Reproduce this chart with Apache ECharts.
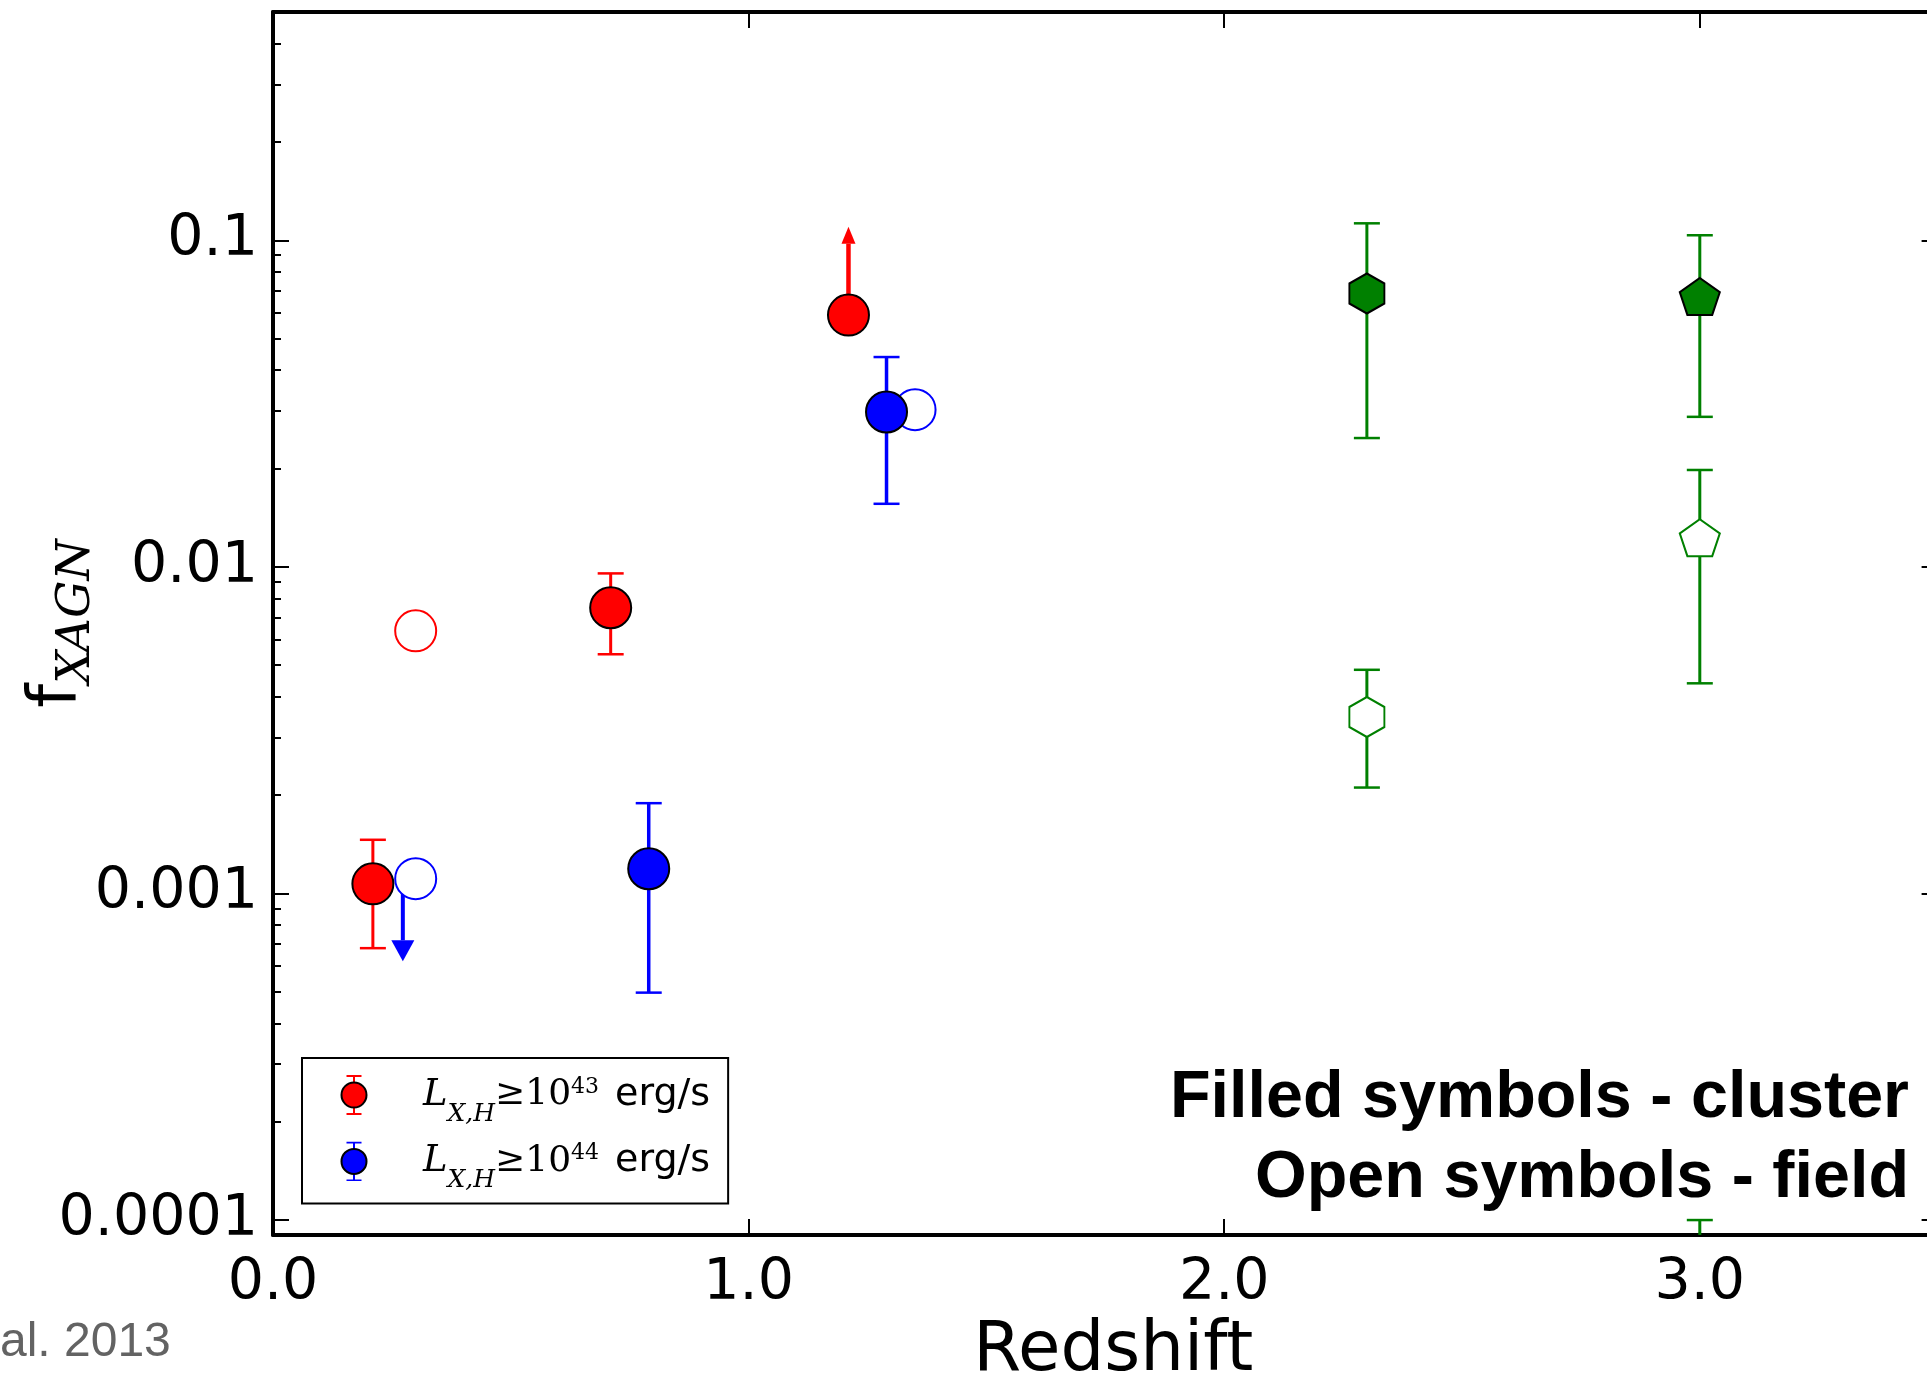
<!DOCTYPE html>
<html>
<head>
<meta charset="utf-8">
<script src="https://cdn.jsdelivr.net/npm/echarts@6/dist/echarts.min.js"></script>
<style>
html, body { margin: 0; padding: 0; background: #fff; }
#chart { width: 1927px; height: 1374px; }
</style>
</head>
<body>
<div id="chart"></div>
<script>
// axis ranges and ticks
var xMin = 0, xMax = 3.5;
var yMin = 9e-5, yMax = 0.5;
var yMinorTicks = [2e-4, 3e-4, 4e-4, 5e-4, 6e-4, 7e-4, 8e-4, 9e-4,
                   2e-3, 3e-3, 4e-3, 5e-3, 6e-3, 7e-3, 8e-3, 9e-3,
                   0.02, 0.03, 0.04, 0.05, 0.06, 0.07, 0.08, 0.09,
                   0.2, 0.3, 0.4];

// red: L >= 1e43, blue: L >= 1e44  ([z, f])
var redCluster = [[0.21, 1.07e-3], [0.71, 7.5e-3], [1.21, 0.059]];
var redClusterErr = [[0.21, 6.8e-4, 1.46e-3], [0.71, 5.4e-3, 9.55e-3]];
var redClusterLimit = [[1.21, 0.059, 0.110]];
var redField = [[0.30, 6.37e-3]];

var blueCluster = [[0.79, 1.19e-3], [1.29, 0.0298]];
var blueClusterErr = [[0.79, 4.97e-4, 1.89e-3], [1.29, 0.0156, 0.0439]];
var blueField = [[0.30, 1.11e-3], [1.35, 0.0303]];
var blueFieldLimit = [[0.273, 1.11e-3, 6.2e-4]];

// green: high-z points
var greenClusterHex = [[2.30, 0.0687]];
var greenClusterPent = [[3.0, 0.0663]];
var greenClusterErr = [[2.30, 0.0248, 0.1127], [3.0, 0.0288, 0.1036]];
var greenFieldHex = [[2.30, 3.47e-3]];
var greenFieldPent = [[3.0, 0.0121]];
var greenFieldErr = [[2.30, 2.11e-3, 4.84e-3], [3.0, 4.40e-3, 0.0198], [3.0, 5e-5, 1e-4]];

var legendExp = { 'Lx43': '43', 'Lx44': '44' };

var RED = '#ff0000', BLUE = '#0000ff', GREEN = '#008000';
var HEX = 'path://M0,-1L0.866,-0.5L0.866,0.5L0,1L-0.866,0.5L-0.866,-0.5Z';
var PENT = 'path://M0,-1L0.951,-0.309L0.588,0.809L-0.588,0.809L-0.951,-0.309Z';

var chart = echarts.init(document.getElementById('chart'), null, { renderer: 'canvas' });

function errorBarRender(color, lw) {
    return function (params, api) {
        var x = api.value(0);
        var lo = api.coord([x, api.value(1)]);
        var hi = api.coord([x, api.value(2)]);
        var half = 13;
        return {
            type: 'group',
            children: [
                { type: 'line', shape: { x1: lo[0], y1: lo[1], x2: hi[0], y2: hi[1] }, style: { stroke: color, lineWidth: lw } },
                { type: 'line', shape: { x1: hi[0] - half, y1: hi[1], x2: hi[0] + half, y2: hi[1] }, style: { stroke: color, lineWidth: 2.5 } },
                { type: 'line', shape: { x1: lo[0] - half, y1: lo[1], x2: lo[0] + half, y2: lo[1] }, style: { stroke: color, lineWidth: 2.5 } }
            ]
        };
    };
}

function arrowRender(color, lw, headW, headL) {
    return function (params, api) {
        var x = api.value(0);
        var p0 = api.coord([x, api.value(1)]);
        var p1 = api.coord([x, api.value(2)]);
        var dir = p1[1] < p0[1] ? -1 : 1;
        var base = p1[1] - dir * headL;
        return {
            type: 'group',
            children: [
                { type: 'line', shape: { x1: p0[0], y1: p0[1], x2: p1[0], y2: base }, style: { stroke: color, lineWidth: lw } },
                { type: 'polygon', shape: { points: [[p1[0] - headW / 2, base], [p1[0] + headW / 2, base], [p1[0], p1[1]]] }, style: { fill: color } }
            ]
        };
    };
}

function legendIcon(color) {
    var svg = "<svg xmlns='http://www.w3.org/2000/svg' width='91' height='40' viewBox='0 0 91 40'>" +
        "<line x1='27' y1='1' x2='27' y2='39' stroke='" + color + "' stroke-width='2'/>" +
        "<line x1='19.5' y1='1' x2='34.5' y2='1' stroke='" + color + "' stroke-width='2'/>" +
        "<line x1='19.5' y1='39' x2='34.5' y2='39' stroke='" + color + "' stroke-width='2'/>" +
        "<circle cx='27' cy='20' r='12.5' fill='" + color + "' stroke='black' stroke-width='2'/></svg>";
    return 'image://data:image/svg+xml;charset=utf-8,' + encodeURIComponent(svg);
}

function errSeries(name, data, color, lw) {
    return { type: 'custom', name: name, data: data, renderItem: errorBarRender(color, lw),
             encode: { x: 0, y: [1, 2] }, clip: true, silent: true, z: 2 };
}
function arrowSeries(name, data, color, lw, hw, hl) {
    return { type: 'custom', name: name, data: data, renderItem: arrowRender(color, lw, hw, hl),
             encode: { x: 0, y: [1, 2] }, clip: true, silent: true, z: 2 };
}
function markSeries(name, data, symbol, size, fill, edge, z, offset) {
    return { type: 'scatter', name: name, data: data, symbol: symbol, symbolSize: size,
             symbolOffset: offset || [0, 0],
             itemStyle: { color: fill, borderColor: edge, borderWidth: 2, opacity: 1 },
             emphasis: { disabled: true }, silent: true, z: z };
}

var spine = { show: true, onZero: false, lineStyle: { color: '#000', width: 4 } };
var tickFont = { fontFamily: 'DejaVu Sans', fontSize: 57, color: '#000' };
var logMin = Math.log10(yMin), logMax = Math.log10(yMax);
var minorLog = yMinorTicks.map(function (v) { return Math.log10(v); });

option = {
    animation: false,
    backgroundColor: '#fff',
    grid: { left: 273, top: 12, right: -10.6, bottom: 139, outerBoundsMode: 'none', containLabel: false },
    legend: {
        orient: 'vertical',
        left: 302,
        top: 1058,
        padding: [12, 18, 10, 25],
        itemGap: 9.4,
        itemWidth: 91,
        itemHeight: 40,
        backgroundColor: '#fff',
        borderColor: '#000',
        borderWidth: 2,
        borderRadius: 0,
        selectedMode: false,
        symbolKeepAspect: true,
        data: [
            { name: 'Lx43', icon: legendIcon(RED) },
            { name: 'Lx44', icon: legendIcon(BLUE) }
        ],
        formatter: function (name) {
            return '{L|L}{sub|X,H}{ge|\u226510}{sup|' + legendExp[name] + '}{u|erg/s}';
        },
        textStyle: {
            color: '#000',
            rich: {
                L: { fontFamily: 'DejaVu Serif', fontStyle: 'italic', fontSize: 37, lineHeight: 50, verticalAlign: 'middle', color: '#000' },
                sub: { fontFamily: 'DejaVu Serif', fontStyle: 'italic', fontSize: 25, lineHeight: 11, height: 11, verticalAlign: 'bottom', color: '#000' },
                ge: { fontFamily: 'DejaVu Serif', fontSize: 36, lineHeight: 50, verticalAlign: 'middle', color: '#000' },
                sup: { fontFamily: 'DejaVu Serif', fontSize: 22, lineHeight: 34, height: 34, verticalAlign: 'top', color: '#000' },
                u: { fontFamily: 'DejaVu Sans', fontSize: 38, lineHeight: 50, verticalAlign: 'middle', padding: [0, 0, 0, 16], color: '#000' }
            }
        }
    },
    xAxis: [
        {
            type: 'value', min: xMin, max: xMax, interval: 1, position: 'bottom',
            axisLine: spine,
            axisTick: { show: true, inside: true, length: 16, lineStyle: { color: '#000', width: 2 } },
            axisLabel: Object.assign({ margin: 21, showMaxLabel: false, formatter: function (v) { return v.toFixed(1); } }, tickFont),
            splitLine: { show: false },
            name: 'Redshift', nameLocation: 'middle', nameGap: 83, nameMoveOverlap: false,
            nameTextStyle: { fontFamily: 'DejaVu Sans', fontSize: 69, color: '#000', padding: [0, 0, 0, 16] }
        },
        {
            type: 'value', min: xMin, max: xMax, interval: 1, position: 'top',
            axisLine: spine,
            axisTick: { show: true, inside: true, length: 16, lineStyle: { color: '#000', width: 2 } },
            axisLabel: { show: false },
            splitLine: { show: false }
        }
    ],
    yAxis: [
        {
            type: 'log', logBase: 10, min: yMin, max: yMax, position: 'left',
            axisLine: spine,
            axisTick: { show: true, inside: true, length: 16, lineStyle: { color: '#000', width: 2 } },
            axisLabel: Object.assign({
                margin: 15,
                formatter: function (v) {
                    var e = Math.log10(v);
                    if (Math.abs(e - Math.round(e)) > 1e-6) return '';
                    return String(Math.pow(10, Math.round(e)));
                }
            }, tickFont),
            splitLine: { show: false },
            minorTick: { show: false },
            name: '{f|f}{s|XAGN}', nameLocation: 'middle', nameRotate: 90, nameGap: 175,
            nameMoveOverlap: false,
            nameTextStyle: {
                rich: {
                    f: { fontFamily: 'DejaVu Sans', fontSize: 68, lineHeight: 80, verticalAlign: 'middle', color: '#000' },
                    s: { fontFamily: 'DejaVu Serif', fontStyle: 'italic', fontSize: 47, lineHeight: 42, height: 42, verticalAlign: 'bottom', color: '#000' }
                }
            }
        },
        {
            type: 'value', min: logMin, max: logMax, position: 'left',
            axisLine: { show: false, onZero: false },
            axisTick: { show: true, inside: true, length: 8, customValues: minorLog, lineStyle: { color: '#000', width: 2 } },
            axisLabel: { show: false },
            splitLine: { show: false }
        },
        {
            type: 'log', logBase: 10, min: yMin, max: yMax, position: 'right',
            axisLine: spine,
            axisTick: { show: true, inside: true, length: 16, lineStyle: { color: '#000', width: 2 } },
            axisLabel: { show: false },
            splitLine: { show: false }
        },
        {
            type: 'value', min: logMin, max: logMax, position: 'right',
            axisLine: { show: false, onZero: false },
            axisTick: { show: true, inside: true, length: 8, customValues: minorLog, lineStyle: { color: '#000', width: 2 } },
            axisLabel: { show: false },
            splitLine: { show: false }
        }
    ],
    series: [
        errSeries('red err', redClusterErr, RED, 3),
        arrowSeries('red limit', redClusterLimit, RED, 4.5, 14, 17),
        errSeries('blue err', blueClusterErr, BLUE, 3.5),
        arrowSeries('blue limit', blueFieldLimit, BLUE, 4, 23, 21),
        errSeries('green cluster err', greenClusterErr, GREEN, 3),
        errSeries('green field err', greenFieldErr, GREEN, 3),

        markSeries('red field', redField, 'circle', 41, '#fff', RED, 4),
        markSeries('blue field', blueField, 'circle', 41, '#fff', BLUE, 4),
        markSeries('green field hex', greenFieldHex, HEX, [35, 40], '#fff', GREEN, 4),
        markSeries('green field pent', greenFieldPent, PENT, [40, 37], '#fff', GREEN, 4, [0, -2]),

        markSeries('Lx43', redCluster, 'circle', 41, RED, '#000', 5),
        markSeries('Lx44', blueCluster, 'circle', 41, BLUE, '#000', 5),
        markSeries('green cluster hex', greenClusterHex, HEX, [35, 40], GREEN, '#000', 5),
        markSeries('green cluster pent', greenClusterPent, PENT, [40, 37], GREEN, '#000', 5, [0, -2])
    ],
    graphic: [
        { type: 'text', x: 1909, y: 1099, silent: true,
          style: { text: 'Filled symbols - cluster', font: 'bold 66.5px "Liberation Sans"', fill: '#000',
                   align: 'right', textAlign: 'right', verticalAlign: 'middle', textVerticalAlign: 'middle' } },
        { type: 'text', x: 1909, y: 1179, silent: true,
          style: { text: 'Open symbols - field', font: 'bold 66.5px "Liberation Sans"', fill: '#000',
                   align: 'right', textAlign: 'right', verticalAlign: 'middle', textVerticalAlign: 'middle' } },
        { type: 'text', x: 0, y: 1343, silent: true,
          style: { text: 'al. 2013', font: '48px "Liberation Sans"', fill: '#636363',
                   align: 'left', textAlign: 'left', verticalAlign: 'middle', textVerticalAlign: 'middle' } }
    ]
};

chart.setOption(option);
</script>
</body>
</html>
